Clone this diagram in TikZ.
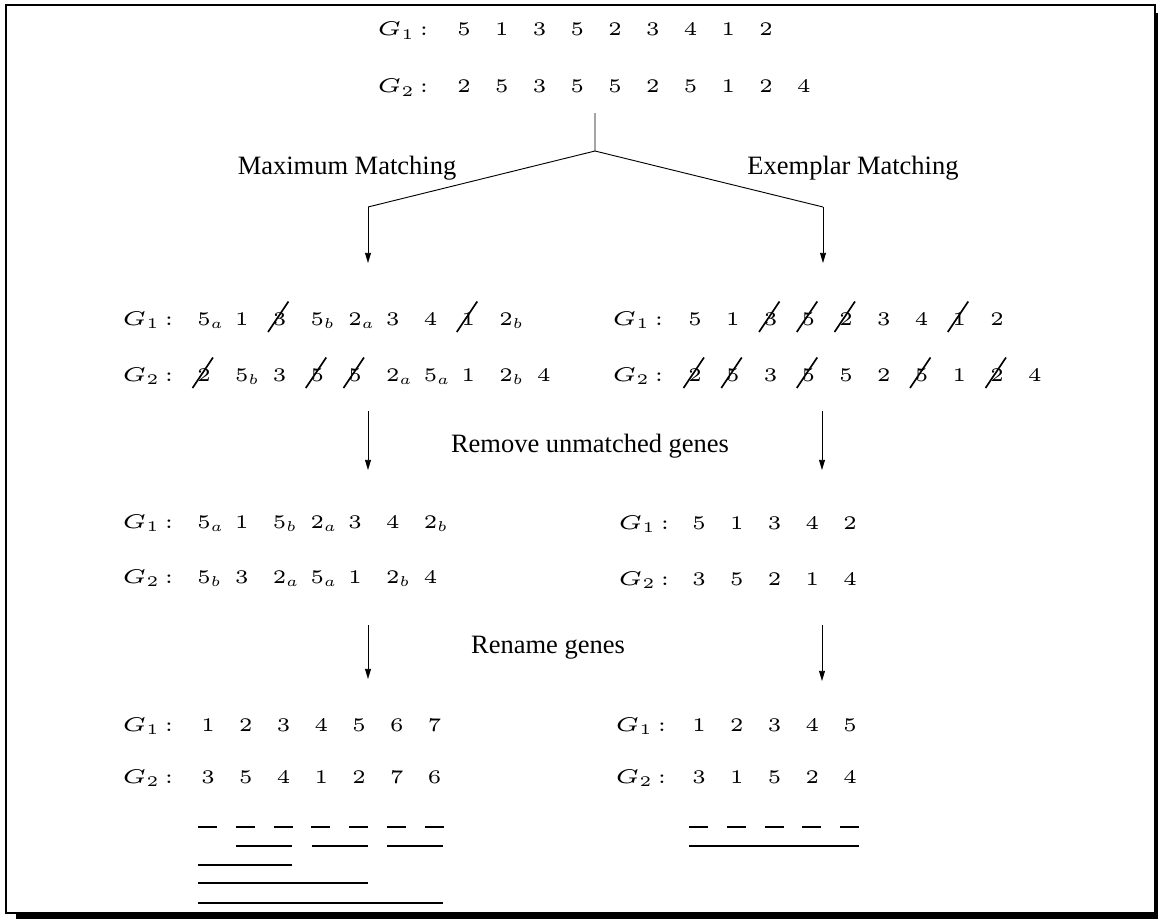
\documentclass[tikz,border=0pt]{standalone}
\usepackage{fix-cm}
\usepackage{fontspec}
\usepackage{graphicx}
\newfontfamily\lblfont{Liberation Serif}
\usetikzlibrary{arrows.meta}
\DeclareMathSizes{5}{5}{3.7}{3}
\newcommand\sx[1]{\scalebox{2.2}[2.08]{\fontsize{5}{6}\selectfont$#1$}}
\newcommand\gx[1]{\scalebox{2.5}[2.15]{\fontsize{5}{6}\selectfont$#1$}}
\tikzset{
  tok/.style={anchor=base west, inner sep=0pt, outer sep=0pt},
  lab/.style={anchor=base, inner sep=0pt, font=\lblfont\fontsize{14.3}{17}\selectfont},
  conn/.style={line width=0.5pt},
  arr/.style={conn, -{Triangle[length=5.5pt,width=3.2pt]}},
  slashline/.style={line width=0.9pt},
  bar/.style={line width=1.4pt},
}
\newcommand\generow[6]{%
  \node[tok] (#1-g) at (#2,#4) {\gx{G_{#5}\mskip2mu{:}}};
  \foreach \t/\c [count=\k from 0] in {#6}{%
    \node[tok] (#1-\k) at ({#3+37.75*\k},#4) {\sx{\t}};
    \ifnum\c=1 \draw[slashline] ([shift={(-4.5,7)}]#1-\k.base west) -- ([shift={(16,-23.5)}]#1-\k.base west);\fi
  }%
}
\begin{document}
\begin{tikzpicture}[x=0.54pt,y=-0.54pt]
\useasboundingbox (0,0) rectangle (1158,919);
% frame with shadow
\draw[line width=1.1pt] (6,5) rectangle (1155,913);
\fill (1156,13) rectangle (1162,922);
\fill (16,914) rectangle (1162,922);
% top rows
\generow{ta}{377}{457}{36}{1}{5/0,1/0,3/0,5/0,2/0,3/0,4/0,1/0,2/0}
\generow{tb}{377}{457}{93}{2}{2/0,5/0,3/0,5/0,5/0,2/0,5/0,1/0,2/0,4/0}
% fork
\coordinate (f0) at (595,113);
\coordinate (f1) at (595,151);
\coordinate (fl) at (368,207);
\coordinate (fr) at (823,207);
\coordinate (al) at (368,263);
\coordinate (ar) at (823,263);
\draw[conn] (f0) -- (f1) -- (fl);
\draw[conn] (f1) -- (fr);
\draw[arr] (fl) -- (al);
\draw[arr] (fr) -- (ar);
\node[lab] (mm) at (347,174) {Maximum Matching};
\node[lab] (em) at (853,174) {Exemplar Matching};
% middle rows
\generow{ma}{122}{197}{325}{1}{5_a/0,1/0,3/1,5_b/0,2_a/0,3/0,4/0,1/1,2_b/0}
\generow{mb}{122}{197}{381}{2}{2/1,5_b/0,3/0,5/1,5/1,2_a/0,5_a/0,1/0,2_b/0,4/0}
\generow{na}{612}{688}{325}{1}{5/0,1/0,3/1,5/1,2/1,3/0,4/0,1/1,2/0}
\generow{nb}{612}{688}{381}{2}{2/1,5/1,3/0,5/1,5/0,2/0,5/1,1/0,2/1,4/0}
% arrows 2
\coordinate (b1) at (368,411);
\coordinate (b2) at (368,470);
\coordinate (b3) at (822,411);
\coordinate (b4) at (822,470);
\draw[arr] (b1) -- (b2);
\draw[arr] (b3) -- (b4);
\node[lab] (rug) at (590,452) {Remove unmatched genes};
% third rows
\generow{pa}{122}{197}{528}{1}{5_a/0,1/0,5_b/0,2_a/0,3/0,4/0,2_b/0}
\generow{pb}{122}{197}{583}{2}{5_b/0,3/0,2_a/0,5_a/0,1/0,2_b/0,4/0}
\generow{qa}{618}{692}{529}{1}{5/0,1/0,3/0,4/0,2/0}
\generow{qb}{618}{692}{585}{2}{3/0,5/0,2/0,1/0,4/0}
% arrows 3
\coordinate (c1) at (368,625);
\coordinate (c2) at (368,679);
\coordinate (c3) at (822,625);
\coordinate (c4) at (822,681);
\draw[arr] (c1) -- (c2);
\draw[arr] (c3) -- (c4);
\node[lab] (rg) at (548,653) {Rename genes};
% bottom rows
\generow{ra}{122}{201}{731}{1}{1/0,2/0,3/0,4/0,5/0,6/0,7/0}
\generow{rb}{122}{201}{783}{2}{3/0,5/0,4/0,1/0,2/0,7/0,6/0}
\generow{sa}{615}{692}{731}{1}{1/0,2/0,3/0,4/0,5/0}
\generow{sb}{615}{692}{783}{2}{3/0,1/0,5/0,2/0,4/0}
% interval bars left
\foreach \k in {0,...,6}{\draw[bar] ({198+37.75*\k},827) -- ({217+37.75*\k},827);}
\draw[bar] (236,846) -- (292,846);
\draw[bar] (312,846) -- (368,846);
\draw[bar] (387,846) -- (443,846);
\draw[bar] (198,865) -- (292,865);
\draw[bar] (198,883) -- (368,883);
\draw[bar] (198,903) -- (443,903);
% interval bars right
\foreach \k in {0,...,4}{\draw[bar] ({689+37.75*\k},827) -- ({708+37.75*\k},827);}
\draw[bar] (689,846) -- (859,846);
\end{tikzpicture}
\end{document}
